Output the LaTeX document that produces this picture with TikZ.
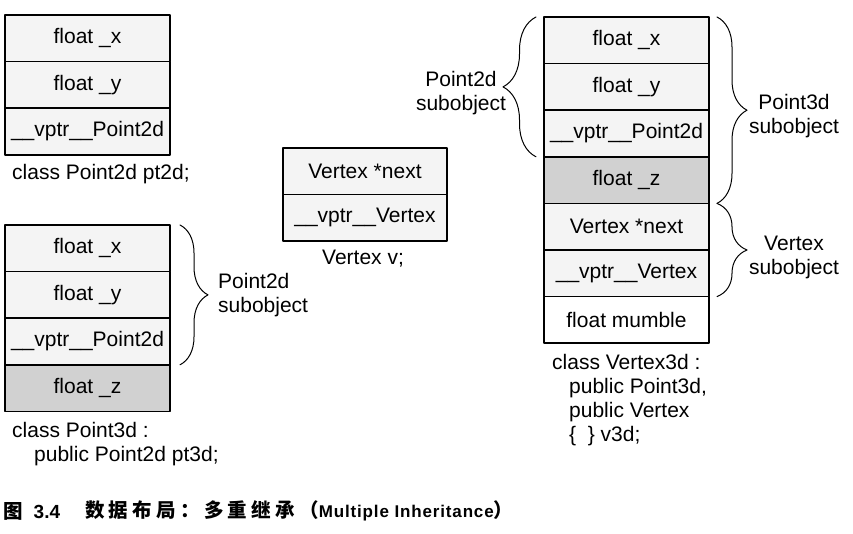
\documentclass[tikz,border=0pt]{standalone}
\usepackage{fontspec}
\setmainfont{Liberation Sans}
\newfontfamily\cjk{Noto Sans CJK SC}
\usetikzlibrary{positioning,decorations.pathreplacing}
\begin{document}
\begin{tikzpicture}[x=1pt,y=-1pt,font=\fontsize{21}{24}\selectfont,line join=round,line cap=round,
	cell/.style={draw,line width=1.6pt,minimum width=165pt,minimum height=46.6pt,inner sep=1pt,outer sep=0pt,fill=gray!9},
	zcell/.style={cell,fill=gray!36},
	wcell/.style={cell,fill=white},
	txt/.style={anchor=north west,inner sep=0pt,align=left},
	sub/.style={inner sep=0pt,align=center},
	brc/.style={decorate,decoration={brace,amplitude=#1},line width=1pt}]
	\useasboundingbox (0,0) rectangle (853,534);
	% class Point2d pt2d
	\node[cell,anchor=north west] (a1) at (5,15) {float \_x};
	\node[cell,below=0pt of a1] (a2) {float \_y};
	\node[cell,below=0pt of a2] (a3) {\_\_vptr\_\_Point2d};
	\node[txt] (alab) at (12,164) {class Point2d pt2d;};
	% class Point3d pt3d
	\node[cell,anchor=north west] (b1) at (5,225) {float \_x};
	\node[cell,below=0pt of b1] (b2) {float \_y};
	\node[cell,below=0pt of b2] (b3) {\_\_vptr\_\_Point2d};
	\node[zcell,below=0pt of b3] (b4) {float \_z};
	\node[txt] (blab) at (12,422) {class Point3d :\\\hspace*{22pt}public Point2d pt3d;};
	\draw[brc=28] ([xshift=10pt]b1.north east) -- coordinate[xshift=30pt] (btip) ([xshift=10pt]b3.south east);
	\node[txt,anchor=west] (bsub) at ([xshift=8pt]btip) {Point2d\\subobject};
	% Vertex v
	\node[cell,minimum width=164pt,anchor=north west] (c1) at (283,148) {Vertex *next};
	\node[cell,minimum width=164pt,below=0pt of c1] (c2) {\_\_vptr\_\_Vertex};
	\node[sub] (clab) at (363,259) {Vertex v;};
	% class Vertex3d v3d
	\node[cell,anchor=north west] (d1) at (544,17) {float \_x};
	\node[cell,below=0pt of d1] (d2) {float \_y};
	\node[cell,below=0pt of d2] (d3) {\_\_vptr\_\_Point2d};
	\node[zcell,below=0pt of d3] (d4) {float \_z};
	\node[cell,below=0pt of d4] (d5) {Vertex *next};
	\node[cell,below=0pt of d5] (d6) {\_\_vptr\_\_Vertex};
	\node[wcell,below=0pt of d6] (d7) {float mumble};
	\node[txt] (dlab) at (552,354) {class Vertex3d :\\\hspace*{17pt}public Point3d,\\\hspace*{17pt}public Vertex\\\hspace*{17pt}\{\ \ \}\ v3d;};
	\draw[brc=33] ([xshift=-8pt]d3.south west) -- ([xshift=-8pt]d1.north west);
	\node[sub] (dsub2) at (461,93) {Point2d\\subobject};
	\draw[brc=30] ([xshift=8pt]d1.north east) -- ([xshift=8pt]d4.south east);
	\node[sub] (dsub3) at (794,116) {Point3d\\subobject};
	\draw[brc=30] ([xshift=8pt]d5.north east) -- ([xshift=8pt]d6.south east);
	\node[sub] (dsubv) at (794,257) {Vertex\\subobject};
	% caption
	\node[anchor=west,inner sep=0pt,font=\cjk\bfseries\fontsize{19.5}{22}\selectfont] (fig) at (3,511) {图\hspace{11pt}{\rmfamily\bfseries\fontsize{19}{22}\selectfont 3.4}};
	\node[anchor=west,inner sep=0pt,font=\cjk\bfseries\fontsize{19.5}{22}\selectfont\addfontfeature{LetterSpace=22}] (cap) at (85,511) {数据布局：多重继承（{\rmfamily\bfseries\fontsize{17}{20}\selectfont\addfontfeature{LetterSpace=5}Multiple Inheritance}）};
\end{tikzpicture}
\end{document}
